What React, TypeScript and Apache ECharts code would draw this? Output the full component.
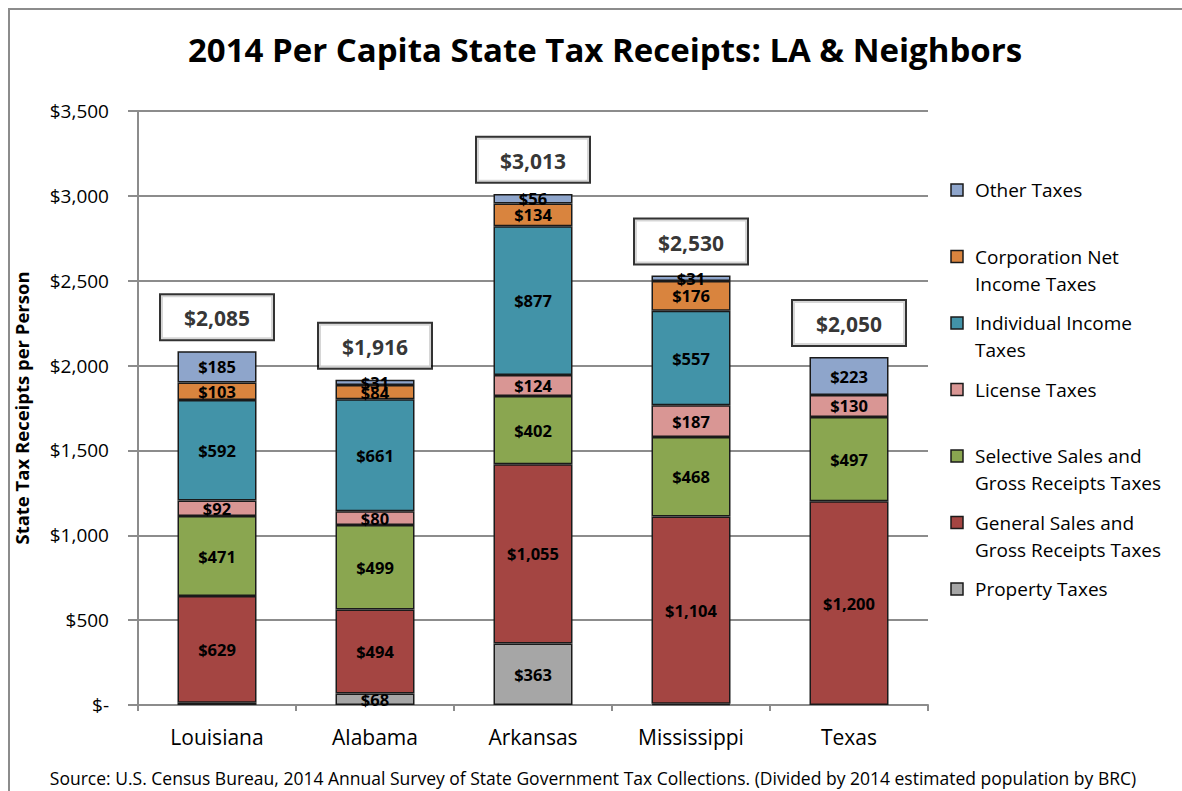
import React, { useEffect, useRef } from "react";
import * as echarts from "echarts";

const categories = ["Louisiana", "Alabama", "Arkansas", "Mississippi", "Texas"];
const propertyTaxes = [13, 68, 363, 7, 0];
const generalSales = [629, 494, 1055, 1104, 1200];
const selectiveSales = [471, 499, 402, 468, 497];
const licenseTaxes = [92, 80, 124, 187, 130];
const individualIncome = [592, 661, 877, 557, 0];
const corporationIncome = [103, 84, 134, 176, 0];
const otherTaxes = [185, 31, 56, 31, 223];
const totals = [2085, 1916, 3013, 2530, 2050];

const seriesNames = [
  "Property Taxes",
  "General Sales and\nGross Receipts Taxes",
  "Selective Sales and\nGross Receipts Taxes",
  "License Taxes",
  "Individual Income\nTaxes",
  "Corporation Net\nIncome Taxes",
  "Other Taxes",
];
const seriesValues = [
  propertyTaxes,
  generalSales,
  selectiveSales,
  licenseTaxes,
  individualIncome,
  corporationIncome,
  otherTaxes,
];
const seriesColors = [
  "#A6A6A6",
  "#A44542",
  "#8AA650",
  "#D99694",
  "#4293A8",
  "#D9843E",
  "#8EA5CB",
];

const FONT = "'Open Sans', 'Noto Sans', sans-serif";

const money = (v: number) => (v === 0 ? "$-" : "$" + v.toLocaleString("en-US"));

export default function App() {
  const ref = useRef<HTMLDivElement>(null);
  useEffect(() => {
    if (!ref.current) return;
    const chart = echarts.init(ref.current, null, { renderer: "svg" });

    const barSeries = seriesNames.map((name, i) => ({
      name,
      type: "bar",
      stack: "total",
      barWidth: "50%",
      data: seriesValues[i].map((v) => (v === 0 ? null : v)),
      itemStyle: { color: seriesColors[i], borderColor: "#1a1a1a", borderWidth: 1.5 },
      label: {
        show: true,
        position: "inside",
        fontFamily: FONT,
        fontWeight: "bold",
        fontSize: 16.5,
        color: "#000",
        textBorderWidth: 0,
        formatter: (p: any) => (p.value >= 20 ? money(p.value) : ""),
      },
    }));

    const legendGraphics: any[] = [];
    const order = [6, 5, 4, 3, 2, 1, 0];
    order.forEach((si, row) => {
      const cy = 190 + row * 66.5;
      legendGraphics.push({
        type: "rect",
        shape: { x: 951, y: cy - 6, width: 12, height: 12 },
        style: { fill: seriesColors[si], stroke: "#1a1a1a", lineWidth: 1.5 },
      });
      legendGraphics.push({
        type: "text",
        x: 975,
        y: cy - 13.5,
        style: {
          text: seriesNames[si],
          font: `19px ${FONT}`,
          fill: "#000",
          lineHeight: 27,
          verticalAlign: "top",
          align: "left",
        },
      });
    });

    chart.setOption({
      animation: false,
      backgroundColor: "#fff",
      title: {
        text: "2014 Per Capita State Tax Receipts: LA & Neighbors",
        left: 600,
        textAlign: "center",
        top: 28,
        textStyle: { fontFamily: FONT, fontWeight: "bold", fontSize: 33, color: "#000" },
      },
      grid: { left: 138, top: 111, right: 254, bottom: 86, containLabel: false },
      xAxis: {
        type: "category",
        data: categories,
        axisLine: { lineStyle: { color: "#8c8c8c", width: 2 } },
        axisTick: { show: true, length: 6, lineStyle: { color: "#8c8c8c", width: 2 } },
        axisLabel: { fontFamily: FONT, fontSize: 21, color: "#000", margin: 21 },
      },
      yAxis: {
        type: "value",
        min: 0,
        max: 3500,
        interval: 500,
        name: "State Tax Receipts per Person",
        nameLocation: "middle",
        nameRotate: 90,
        nameGap: 107,
        nameTextStyle: { fontFamily: FONT, fontWeight: "bold", fontSize: 18.5, color: "#000" },
        axisLine: { show: true, lineStyle: { color: "#8c8c8c", width: 2 } },
        axisTick: { show: true, length: 10, lineStyle: { color: "#8c8c8c", width: 2 } },
        axisLabel: { fontFamily: FONT, fontSize: 19, color: "#000", margin: 29, formatter: (v: number) => money(v) },
        splitLine: { lineStyle: { color: "#8c8c8c", width: 2 } },
      },
      series: [
        ...barSeries,
        {
          name: "Total",
          type: "scatter",
          symbolSize: 0,
          data: totals,
          z: 10,
          label: {
            show: true,
            position: "top",
            distance: 12,
            formatter: (p: any) => money(p.value),
            fontFamily: FONT,
            fontWeight: "bold",
            fontSize: 21,
            color: "#000",
            backgroundColor: "#fff",
            borderColor: "#000",
            borderWidth: 2,
            shadowBlur: 0,
            shadowColor: "transparent",
            textShadowBlur: 0,
            textBorderWidth: 0,
            padding: [9, 19, 7, 19],
            width: 74,
            align: "center",
            lineHeight: 28,
          },
        },
      ],
      graphic: [
        {
          type: "rect",
          shape: { x: 9, y: 9, width: 1300, height: 900 },
          style: { fill: "none", stroke: "#8c8c8c", lineWidth: 2 },
          silent: true,
        },
        ...legendGraphics,
        {
          type: "text",
          x: 593,
          y: 778,
          style: {
            text: "Source: U.S. Census Bureau, 2014 Annual Survey of State Government Tax Collections. (Divided by 2014 estimated population by BRC)",
            font: `17.5px ${FONT}`,
            fill: "#000",
            align: "center",
            verticalAlign: "middle",
          },
        },
      ],
    });
    return () => chart.dispose();
  }, []);
  return (
    <div
      ref={ref}
      style={{ position: "fixed", left: 0, top: 0, width: 1182, height: 791, background: "#fff" }}
    />
  );
}
